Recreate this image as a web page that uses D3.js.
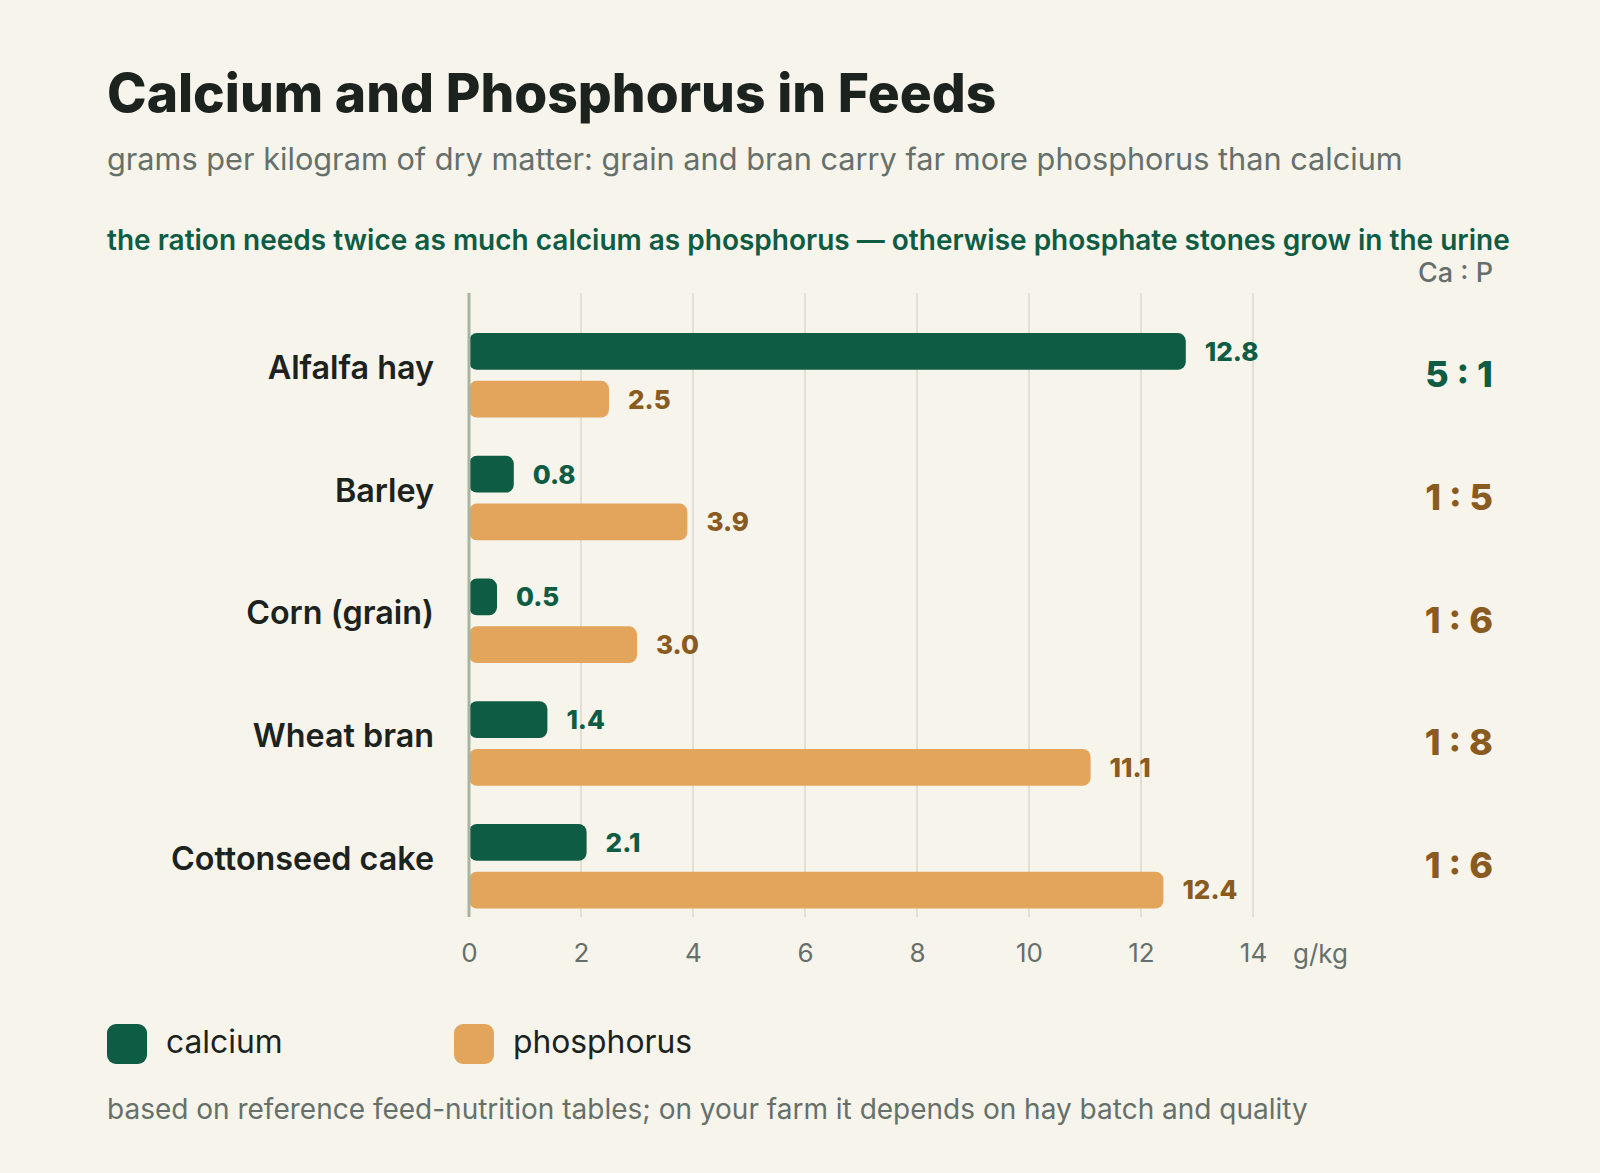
<html lang="en">
<head>
  <meta http-equiv="Content-Type" content="text/html; charset=utf-8" />
  <script src="https://cdn.jsdelivr.net/npm/d3@7"></script>
  <style>
    body { margin: 0; background: #f7f4ec; }
    svg text { font-family: Inter, "Noto Sans", sans-serif; }
  </style>
</head>
<body>
  <div id="chart"></div>
  <script>
    // data (g per kg dry matter)
    const feeds = ["Alfalfa hay", "Barley", "Corn (grain)", "Wheat bran", "Cottonseed cake"];
    const calcium = [12.8, 0.8, 0.5, 1.4, 2.1];
    const phosphorus = [2.5, 3.9, 3.0, 11.1, 12.4];
    const ratios = ["5 : 1", "1 : 5", "1 : 6", "1 : 8", "1 : 6"];
    const xTicks = [0, 2, 4, 6, 8, 10, 12, 14];
    const seriesNames = ["calcium", "phosphorus"];

    const colors = { calcium: "#0d5c43", phosphorus: "#e2a55b" };
    const labelColors = { calcium: "#0d5c43", phosphorus: "#8a5b20" };

    const svg_width = 1600, svg_height = 1173;

    const svg = d3.select("#chart")
      .append("svg")
      .attr("width", svg_width)
      .attr("height", svg_height);

    svg.append("rect")
      .attr("width", svg_width).attr("height", svg_height)
      .attr("fill", "#f7f4ec");

    // titles
    svg.append("text")
      .attr("x", 107).attr("y", 112)
      .attr("font-size", 53.3).attr("font-weight", 800)
      .attr("fill", "#1c231f")
      .text("Calcium and Phosphorus in Feeds");

    svg.append("text")
      .attr("x", 107).attr("y", 170)
      .attr("font-size", 30.7)
      .attr("fill", "#66706a")
      .text("grams per kilogram of dry matter: grain and bran carry far more phosphorus than calcium");

    svg.append("text")
      .attr("x", 107).attr("y", 250)
      .attr("font-size", 28).attr("font-weight", 600)
      .attr("fill", "#0d5c43")
      .text("the ration needs twice as much calcium as phosphorus \u2014 otherwise phosphate stones grow in the urine");

    // scales
    const plotTop = 293, plotBottom = 917;
    const x = d3.scaleLinear().domain([0, 14]).range([469, 1253]);

    const y = d3.scaleBand()
      .domain(feeds)
      .range([314, 927.6])
      .padding(0);

    const ySub = d3.scaleBand()
      .domain(seriesNames)
      .range([0, y.bandwidth()])
      .paddingInner(0.23)
      .paddingOuter(0.4);

    // grid
    svg.append("g")
      .selectAll("line")
      .data(xTicks.slice(1))
      .join("line")
      .attr("x1", d => x(d)).attr("x2", d => x(d))
      .attr("y1", plotTop).attr("y2", plotBottom)
      .attr("stroke", "#e4dfd3")
      .attr("stroke-width", 2);

    // x axis labels
    const xAxis = svg.append("g")
      .attr("transform", `translate(0,${plotBottom})`)
      .call(d3.axisBottom(x).tickValues(xTicks).tickSize(0).tickPadding(27))
      .call(g => g.select(".domain").remove());
    xAxis.selectAll("text")
      .attr("font-size", 26)
      .attr("fill", "#66706a")
      .attr("font-family", "Inter, sans-serif");

    svg.append("text")
      .attr("x", 1293).attr("y", 954)
      .attr("dy", "0.36em")
      .attr("font-size", 26)
      .attr("fill", "#66706a")
      .text("g/kg");

    // category labels
    svg.append("g")
      .selectAll("text")
      .data(feeds)
      .join("text")
      .attr("x", 434)
      .attr("y", d => y(d) + y.bandwidth() / 2 - 8)
      .attr("dy", "0.36em")
      .attr("text-anchor", "end")
      .attr("font-size", 32.3).attr("font-weight", 600)
      .attr("fill", "#1c231f")
      .text(d => d);

    // ratio column
    svg.append("text")
      .attr("x", 1493).attr("y", 272)
      .attr("dy", "0.36em")
      .attr("text-anchor", "end")
      .attr("font-size", 27).attr("font-weight", 500)
      .attr("fill", "#66706a")
      .text("Ca : P");

    svg.append("g")
      .selectAll("text")
      .data(feeds)
      .join("text")
      .attr("x", 1493)
      .attr("y", d => y(d) + y.bandwidth() / 2 - 1)
      .attr("dy", "0.36em")
      .attr("text-anchor", "end")
      .attr("font-size", 36).attr("font-weight", 800)
      .attr("fill", (d, i) => calcium[i] > phosphorus[i] ? labelColors.calcium : labelColors.phosphorus)
      .text((d, i) => ratios[i]);

    // bars
    const rows = feeds.map((f, i) => ({ feed: f, calcium: calcium[i], phosphorus: phosphorus[i] }));

    const groups = svg.append("g")
      .selectAll("g")
      .data(rows)
      .join("g")
      .attr("transform", d => `translate(0,${y(d.feed)})`);

    const items = groups.selectAll("g")
      .data(d => seriesNames.map(key => ({ key, value: d[key] })))
      .join("g");

    items.append("rect")
      .attr("x", x(0))
      .attr("y", d => ySub(d.key))
      .attr("width", d => x(d.value) - x(0))
      .attr("height", ySub.bandwidth())
      .attr("rx", 8).attr("ry", 8)
      .attr("fill", d => colors[d.key]);

    items.append("text")
      .attr("x", d => x(d.value) + 19)
      .attr("y", d => ySub(d.key) + ySub.bandwidth() / 2)
      .attr("dy", "0.36em")
      .attr("font-size", 26).attr("font-weight", 800)
      .attr("fill", d => labelColors[d.key])
      .text(d => d.value.toFixed(1));

    // axis line at zero
    svg.append("line")
      .attr("x1", x(0)).attr("x2", x(0))
      .attr("y1", plotTop).attr("y2", plotBottom)
      .attr("stroke", "#a7b4a0")
      .attr("stroke-width", 3);

    // legend
    const legendX = [107, 454];
    const legend = svg.append("g")
      .selectAll("g")
      .data(seriesNames)
      .join("g")
      .attr("transform", (d, i) => `translate(${legendX[i]},1024)`);
    legend.append("rect")
      .attr("width", 40).attr("height", 40)
      .attr("rx", 9).attr("ry", 9)
      .attr("fill", d => colors[d]);
    legend.append("text")
      .attr("x", 59).attr("y", 18)
      .attr("dy", "0.36em")
      .attr("font-size", 31.8)
      .attr("fill", "#1c231f")
      .text(d => d);

    // footer
    svg.append("text")
      .attr("x", 107).attr("y", 1119)
      .attr("font-size", 28)
      .attr("fill", "#66706a")
      .text("based on reference feed-nutrition tables; on your farm it depends on hay batch and quality");
  </script>
</body>
</html>
